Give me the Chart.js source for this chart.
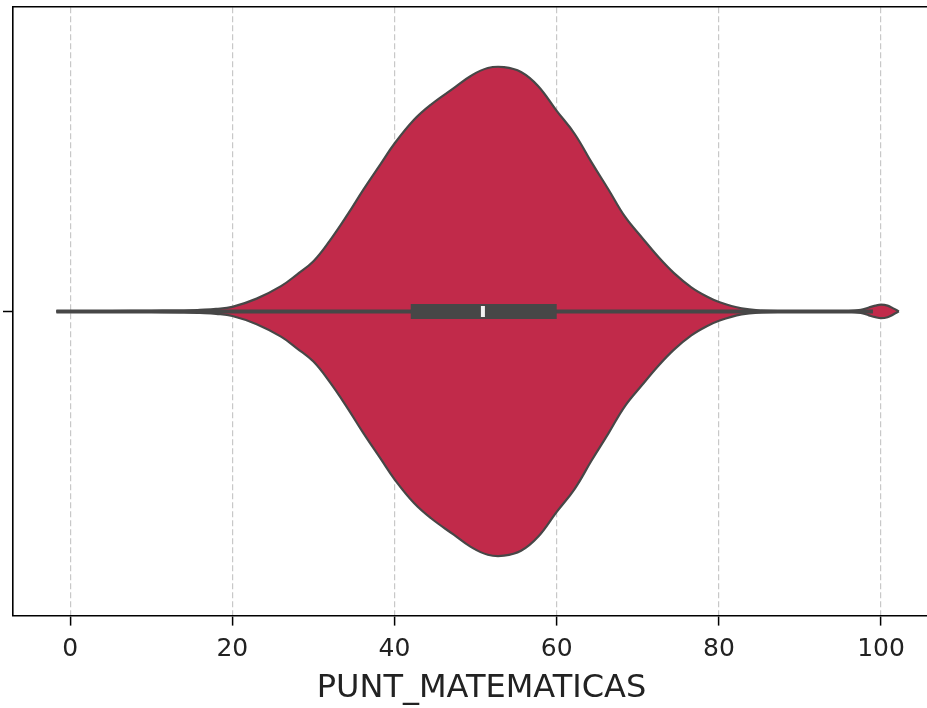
<!DOCTYPE html>
<html>
<head>
<meta charset="utf-8">
<script src="https://cdn.jsdelivr.net/npm/chart.js@4"></script>
<style>
  html, body { margin: 0; padding: 0; background: #fff; overflow: hidden; }
  #wrap { width: 950px; height: 708px; }
</style>
</head>
<body>
<div id="wrap"><canvas id="violin"></canvas></div>
<script>
// kernel density profile of PUNT_MATEMATICAS (half-width of the violin)
const scores = [-1.7, 5, 10, 14, 16, 18, 20, 23, 26, 28, 30, 32, 34.2, 36.2, 38.3, 40, 42.4, 44.5,
  47.3, 49.4, 51.5, 53.5, 55.6, 57.7, 60, 62.2, 64.3, 66.4, 68.4, 70.5, 72.6, 74.5, 76.6, 78.5,
  80.1, 82.8, 85.3, 88, 92, 96, 97.5, 98.5, 99.3, 100, 100.8, 101.5, 102.2];
const density = [0, 0.001, 0.002, 0.003, 0.005, 0.008, 0.015, 0.042, 0.083, 0.122, 0.165, 0.232,
  0.318, 0.402, 0.485, 0.552, 0.630, 0.680, 0.734, 0.774, 0.800, 0.803, 0.787, 0.741, 0.659,
  0.584, 0.490, 0.400, 0.312, 0.243, 0.177, 0.125, 0.079, 0.049, 0.030, 0.010, 0.003, 0.001, 0,
  0.001, 0.005, 0.013, 0.019, 0.022, 0.019, 0.010, 0];

// inner box: whiskers, quartiles, median
const whisker = [-1.7, 99];
const quartiles = [42, 60];
const median = 50.9;

const xTicks = [0, 20, 40, 60, 80, 100];

const violinColor = '#c12a4a';
const darkGray = '#474747';

const upper = scores.map((s, i) => ({x: s, y: density[i]}));
const lower = scores.map((s, i) => ({x: s, y: -density[i]}));

const ct = document.getElementById('violin');
new Chart(ct, {
  type: 'line',
  data: {
    datasets: [{
      data: upper,
      borderColor: darkGray,
      borderWidth: 2.2,
      pointRadius: 0,
      tension: 0.4,
      fill: false,
      order: 3
    }, {
      data: lower,
      borderColor: darkGray,
      borderWidth: 2.2,
      backgroundColor: violinColor,
      pointRadius: 0,
      tension: 0.4,
      fill: '-1',
      order: 3
    }, {
      data: whisker.map(v => ({x: v, y: 0})),
      borderColor: darkGray,
      borderWidth: 4,
      borderCapStyle: 'butt',
      pointRadius: 0,
      order: 2
    }, {
      data: quartiles.map(v => ({x: v, y: 0})),
      borderColor: darkGray,
      borderWidth: 15,
      borderCapStyle: 'butt',
      pointRadius: 0,
      order: 1
    }, {
      data: [{x: median, y: -0.018}, {x: median, y: 0.018}],
      borderColor: '#f2f2f2',
      borderWidth: 4,
      borderCapStyle: 'butt',
      pointRadius: 0,
      order: 0
    }]
  },
  options: {
    responsive: true,
    maintainAspectRatio: false,
    animation: false,
    layout: { padding: { left: 3, top: 5, right: 0, bottom: 0 } },
    plugins: {
      legend: { display: false },
      tooltip: { enabled: false }
    },
    scales: {
      x: {
        type: 'linear',
        position: 'bottom',
        min: -7.05,
        max: 108.5,
        z: 1,
        afterBuildTicks: (axis) => { axis.ticks = xTicks.map(v => ({value: v})); },
        grid: {
          color: 'rgba(176,176,176,0.7)',
          lineWidth: 1.2,
          tickLength: 10,
          tickColor: '#000',
          tickWidth: 1.5
        },
        border: { display: true, color: '#000', width: 1.6, dash: [6, 3] },
        ticks: {
          color: '#222',
          padding: 9,
          maxRotation: 0,
          font: { family: 'DejaVu Sans', size: 25 }
        },
        title: {
          display: true,
          text: 'PUNT_MATEMATICAS',
          color: '#222',
          padding: { top: -4, bottom: 0 },
          font: { family: 'DejaVu Sans', size: 32 }
        }
      },
      x2: {
        type: 'linear',
        position: 'top',
        min: -7.05,
        max: 108.5,
        afterBuildTicks: (axis) => { axis.ticks = []; },
        grid: { display: false, drawTicks: false },
        border: { display: true, color: '#000', width: 1.6 },
        ticks: { display: false }
      },
      y: {
        min: -1,
        max: 1,
        afterBuildTicks: (axis) => { axis.ticks = [{value: 0}]; },
        grid: {
          drawOnChartArea: false,
          tickLength: 10,
          tickColor: '#000',
          tickWidth: 1.5
        },
        border: { display: true, color: '#000', width: 1.6 },
        ticks: { padding: 0, callback: () => '' }
      }
    }
  }
});
</script>
</body>
</html>
